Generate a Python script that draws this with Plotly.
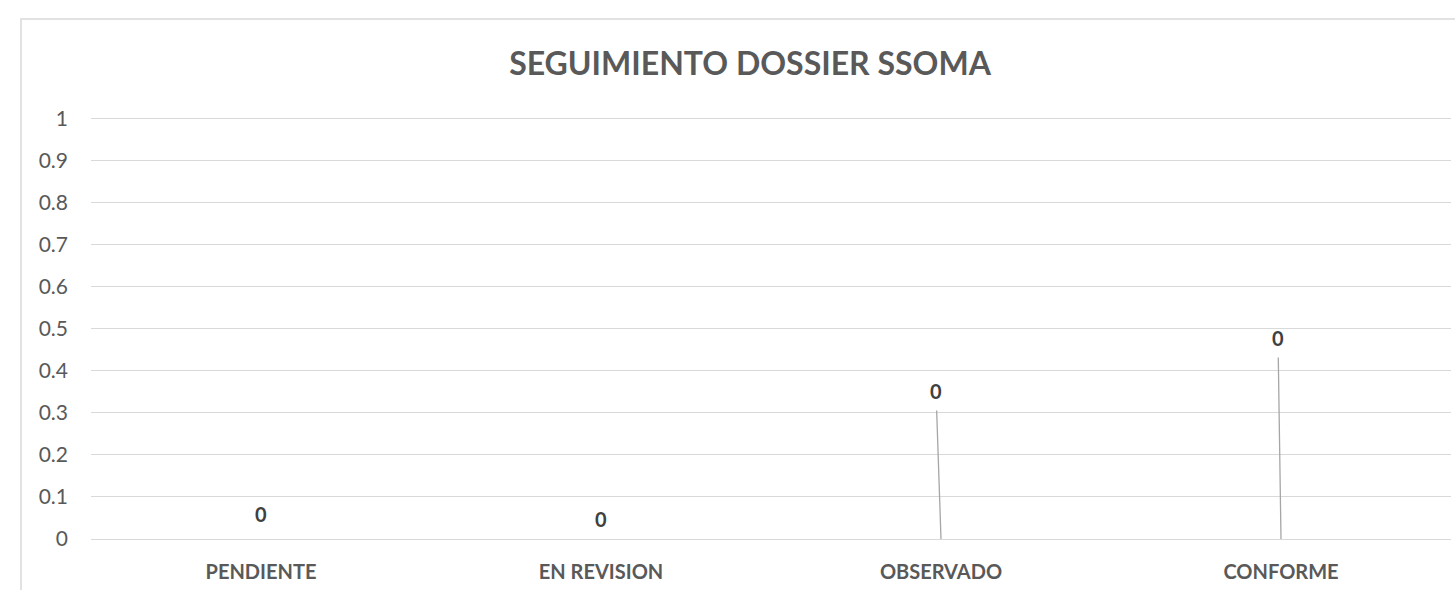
import plotly.graph_objects as go

# Dossier tracking counts per status
categories = ["PENDIENTE", "EN REVISION", "OBSERVADO", "CONFORME"]
values = [0, 0, 0, 0]
y_ticks = [0, 0.1, 0.2, 0.3, 0.4, 0.5, 0.6, 0.7, 0.8, 0.9, 1]

# Data-label offsets (px) from each bar top, as placed in the workbook
label_dx = [0, 0, -5, -3]
label_dy = [-25, -20, -148, -201]
show_leader = [False, False, True, True]

GREY_TEXT = "#595959"
GRID = "#d9d9d9"
FONT = "Lato"

fig = go.Figure()
fig.add_trace(go.Bar(
    x=categories, y=values, marker_color="#4472c4", width=0.5,
    marker_line_width=0,
    hoverinfo="skip", showlegend=False,
))

for cat, val, dx, dy, lead in zip(categories, values, label_dx, label_dy, show_leader):
    if lead:
        fig.add_annotation(
            x=cat, y=val, text=f"<b>{val}</b>", showarrow=True,
            ax=dx, ay=dy, arrowhead=0, arrowwidth=1.3, arrowcolor="#a6a6a6",
            startstandoff=6,
            font=dict(family=FONT, size=20, color="#404040"),
        )
    else:
        fig.add_annotation(
            x=cat, y=val, text=f"<b>{val}</b>", showarrow=False,
            xshift=dx, yshift=-dy,
            font=dict(family=FONT, size=20, color="#404040"),
        )

# chart-area border
W, H = 1455, 590
L, R, T, B = 91, 4, 117, 51
pw, ph = W - L - R, H - T - B
fig.add_shape(
    type="rect", xref="paper", yref="paper",
    x0=(21 - L) / pw, x1=1.2, y0=-0.3, y1=1 + (T - 19) / ph,
    line=dict(color=GRID, width=1.5), fillcolor="rgba(0,0,0,0)", layer="below",
)

fig.update_layout(
    width=W, height=H,
    margin=dict(l=L, r=R, t=T, b=B),
    paper_bgcolor="white", plot_bgcolor="white",
    title=dict(
        text="<b>SEGUIMIENTO DOSSIER SSOMA</b>",
        x=(750 - L) / pw, xref="paper", xanchor="center",
        y=1 - 64 / H, yref="container", yanchor="middle",
        font=dict(family=FONT, size=32, color=GREY_TEXT),
    ),
    xaxis=dict(
        tickvals=categories, ticktext=[f"<b>{c}</b>" for c in categories],
        showgrid=False, zeroline=False, showline=False, ticks="",
        tickfont=dict(family=FONT, size=20, color=GREY_TEXT),
        ticklabelstandoff=19,
    ),
    yaxis=dict(
        range=[0, 1.003], tickvals=y_ticks,
        ticktext=[f"{v:g}" for v in y_ticks],
        showgrid=True, gridcolor=GRID, gridwidth=1.3,
        zeroline=True, zerolinecolor=GRID, zerolinewidth=1.3,
        showline=False, ticks="",
        tickfont=dict(family=FONT, size=21, color=GREY_TEXT),
        ticklabelstandoff=22,
    ),
    hovermode=False,
)

fig.write_html("out.html")
